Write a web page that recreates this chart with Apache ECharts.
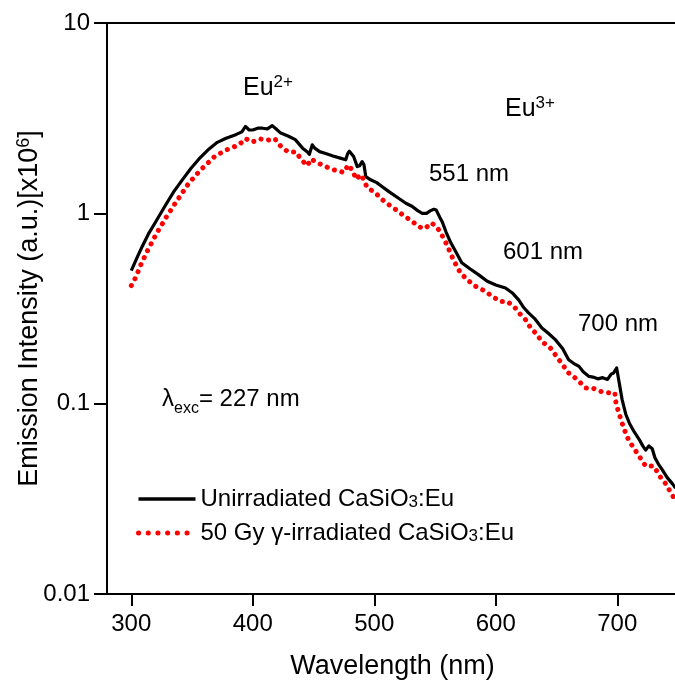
<!DOCTYPE html>
<html>
<head>
<meta charset="utf-8">
<script src="https://cdn.jsdelivr.net/npm/echarts@6/dist/echarts.min.js"></script>
<style>html,body{margin:0;padding:0;background:#fff}#c{width:675px;height:686px}</style>
</head>
<body>
<div id="c"></div>
<script>
// ---- data ----
const seriesNames = ['Unirradiated CaSiO3:Eu', '50 Gy γ-irradiated CaSiO3:Eu'];
const xTicks = [300, 400, 500, 600, 700];
const yTicks = [0.01, 0.1, 1, 10];

const blackWavelength = [300,305,309,314.6,320,328,335,342,349,355.7,363,370.8,378,386,391,394,397,400,404,408,412,416,419,423,429,435,441,445,446.5,449,451,455,460,466,472,476.5,478,479.5,481,483,486,488,490,491.5,493,497,502,506.6,512,520,526,531,536,539.5,543,546,549,551,554,556,559,563,567,572,579,586,593,600,608,614,619,623,627,632,638,643,649,655,660,664,668.5,672,676.7,680,684,688,692,695,697,699.5,701.5,704,707,710,714,718,721,723.4,726,728.8,731,734,737,741,745.3,748];
const blackIntensity = [0.50,0.59,0.67,0.79,0.90,1.10,1.30,1.50,1.72,1.93,2.15,2.36,2.48,2.59,2.68,2.86,2.74,2.74,2.80,2.80,2.78,2.89,2.78,2.64,2.55,2.44,2.20,2.10,2.04,2.29,2.20,2.11,2.06,2.00,1.95,1.91,2.05,2.12,2.08,1.99,1.76,1.78,1.87,1.80,1.56,1.50,1.45,1.38,1.30,1.20,1.13,1.09,1.03,1.00,1.00,1.03,1.05,1.04,0.95,0.90,0.80,0.70,0.63,0.55,0.51,0.475,0.44,0.42,0.405,0.38,0.35,0.32,0.30,0.28,0.25,0.235,0.217,0.195,0.17,0.163,0.157,0.147,0.139,0.138,0.135,0.137,0.134,0.143,0.145,0.154,0.13,0.105,0.088,0.079,0.071,0.065,0.060,0.057,0.060,0.058,0.052,0.048,0.045,0.041,0.038,0.036];

const redWavelength = [300,303.6,308,313,320.6,329,337.4,347,357,368.6,378,388.6,394,399.6,405.9,412,418,423,429.2,435.8,439.4,444.9,448,452,460,467,475,478.6,482.5,485,488.8,491.5,494,501,506.6,512,518.4,524.4,531,536.8,541.5,547.2,552,556,560,563,566.4,571,578,583.5,591.7,597,604,609.5,615,620.5,624.6,628.7,632.8,638,645,652,660,667,674,679.4,686.3,693,698,699,701.4,704,708,712.4,718,723.4,730,735.7,739.8,745.3,750];
const redIntensity = [0.417,0.46,0.54,0.63,0.78,0.96,1.16,1.43,1.69,1.99,2.15,2.29,2.47,2.37,2.46,2.42,2.47,2.25,2.10,2.10,1.93,1.78,1.93,1.86,1.76,1.69,1.64,1.80,1.66,1.51,1.60,1.50,1.37,1.28,1.18,1.11,1.04,0.97,0.91,0.85,0.83,0.89,0.84,0.76,0.68,0.61,0.55,0.485,0.44,0.413,0.389,0.366,0.344,0.344,0.324,0.293,0.276,0.25,0.235,0.212,0.196,0.17,0.145,0.134,0.121,0.121,0.116,0.114,0.114,0.10,0.089,0.079,0.067,0.060,0.053,0.047,0.047,0.041,0.038,0.033,0.030];

// ---- chart ----
const FONT = '"Liberation Sans", Arial, sans-serif';
const pair = (xs, ys) => xs.map((x, i) => [x, ys[i]]);
const chart = echarts.init(document.getElementById('c'), null, {renderer: 'canvas'});

const subRich = {
  n: {fontSize: 24, fontFamily: FONT, color: '#000', lineHeight: 24, verticalAlign: 'bottom'},
  s: {fontSize: 17, fontFamily: FONT, color: '#000', lineHeight: 18, verticalAlign: 'bottom'}
};
const hiddenSymbol = {color: 'rgba(0,0,0,0)', borderColor: 'rgba(0,0,0,0)', borderWidth: 0, opacity: 0};

const option = {
  animation: false,
  backgroundColor: '#fff',
  textStyle: {fontFamily: FONT},
  grid: {left: 107, right: -3, top: 23, bottom: 92, containLabel: false, outerBoundsMode: 'none'},
  legend: {
    orient: 'vertical', left: 131, top: 482, itemWidth: 57, itemHeight: 14, itemGap: 10,
    data: [
      {name: seriesNames[0], itemStyle: hiddenSymbol, lineStyle: {color: '#000', width: 3.5, type: 'solid'}},
      {name: seriesNames[1], itemStyle: hiddenSymbol, lineStyle: {color: '#ff0000', width: 5, type: [0.1, 9.6], cap: 'round'}}
    ],
    itemStyle: hiddenSymbol,
    formatter: function (name) {
      const parts = name.split('3');
      return '{n|' + parts[0] + '}{s|3}{n|' + parts[1] + '}';
    },
    textStyle: {fontSize: 24, fontFamily: FONT, color: '#000', lineHeight: 25, rich: subRich}
  },
  xAxis: [{
    type: 'value', min: 280, max: 750, position: 'bottom',
    name: 'Wavelength (nm)', nameLocation: 'middle', nameGap: 59, nameMoveOverlap: false,
    nameTextStyle: {fontSize: 27, fontFamily: FONT, color: '#000'},
    axisLine: {show: true, onZero: false, lineStyle: {color: '#000', width: 2}},
    axisTick: {show: true, inside: false, length: 12, customValues: xTicks, lineStyle: {color: '#000', width: 2}},
    axisLabel: {show: true, customValues: xTicks, fontSize: 24, fontFamily: FONT, color: '#000', margin: 18},
    splitLine: {show: false}
  }, {
    type: 'value', min: 280, max: 750, position: 'top',
    axisLine: {show: true, onZero: false, lineStyle: {color: '#000', width: 2}},
    axisTick: {show: false}, axisLabel: {show: false}, splitLine: {show: false}
  }],
  yAxis: {
    type: 'log', logBase: 10, min: 0.01, max: 10,
    name: 'Emission Intensity (a.u.)[x10{sup|6}]', nameLocation: 'middle', nameGap: 62, nameRotate: 90,
    nameMoveOverlap: false,
    nameTextStyle: {fontSize: 27, fontFamily: FONT, color: '#000', lineHeight: 30,
      rich: {sup: {fontSize: 18, fontFamily: FONT, color: '#000', verticalAlign: 'top', lineHeight: 18}}},
    axisLine: {show: true, lineStyle: {color: '#000', width: 2}},
    axisTick: {show: true, inside: false, length: 13, lineStyle: {color: '#000', width: 2}},
    minorTick: {show: false},
    axisLabel: {fontSize: 24, fontFamily: FONT, color: '#000', margin: 17,
      formatter: v => (v >= 1 ? String(Math.round(v)) : String(Number(v.toPrecision(1))))},
    splitLine: {show: false}
  },
  series: [{
    name: seriesNames[0], type: 'line', xAxisIndex: 0, showSymbol: false, symbol: 'none',
    data: pair(blackWavelength, blackIntensity),
    lineStyle: {color: '#000', width: 3.2, join: 'round'},
    itemStyle: {color: '#000'}
  }, {
    name: seriesNames[1], type: 'line', xAxisIndex: 0, showSymbol: false, symbol: 'none',
    data: pair(redWavelength, redIntensity),
    lineStyle: {color: '#ff0000', width: 5, type: [0.1, 7.6], cap: 'round'},
    itemStyle: {color: '#ff0000'}
  }],
  graphic: [
    {type: 'text', left: 243, top: 74, style: {text: 'Eu{sup|2+}', fill: '#000',
      rich: {sup: {fontSize: 17, fontFamily: FONT, verticalAlign: 'top', lineHeight: 17}},
      font: '25px ' + FONT, lineHeight: 29}},
    {type: 'text', left: 505, top: 95, style: {text: 'Eu{sup|3+}', fill: '#000',
      rich: {sup: {fontSize: 17, fontFamily: FONT, verticalAlign: 'top', lineHeight: 17}},
      font: '25px ' + FONT, lineHeight: 29}},
    {type: 'text', left: 429, top: 162, style: {text: '551 nm', fill: '#000', font: '24px ' + FONT}},
    {type: 'text', left: 503, top: 240, style: {text: '601 nm', fill: '#000', font: '24px ' + FONT}},
    {type: 'text', left: 578, top: 312, style: {text: '700 nm', fill: '#000', font: '24px ' + FONT}},
    {type: 'text', left: 162, top: 387, style: {text: '{b|λ}{s|exc}{b|= 227 nm}', fill: '#000', font: '24px ' + FONT,
      rich: {
        b: {fontSize: 24, fontFamily: FONT, lineHeight: 24, verticalAlign: 'top'},
        s: {fontSize: 16, fontFamily: FONT, lineHeight: 16, verticalAlign: 'top', padding: [14, 0, 0, 0]}
      }}}
  ]
};
chart.setOption(option);
</script>
</body>
</html>
